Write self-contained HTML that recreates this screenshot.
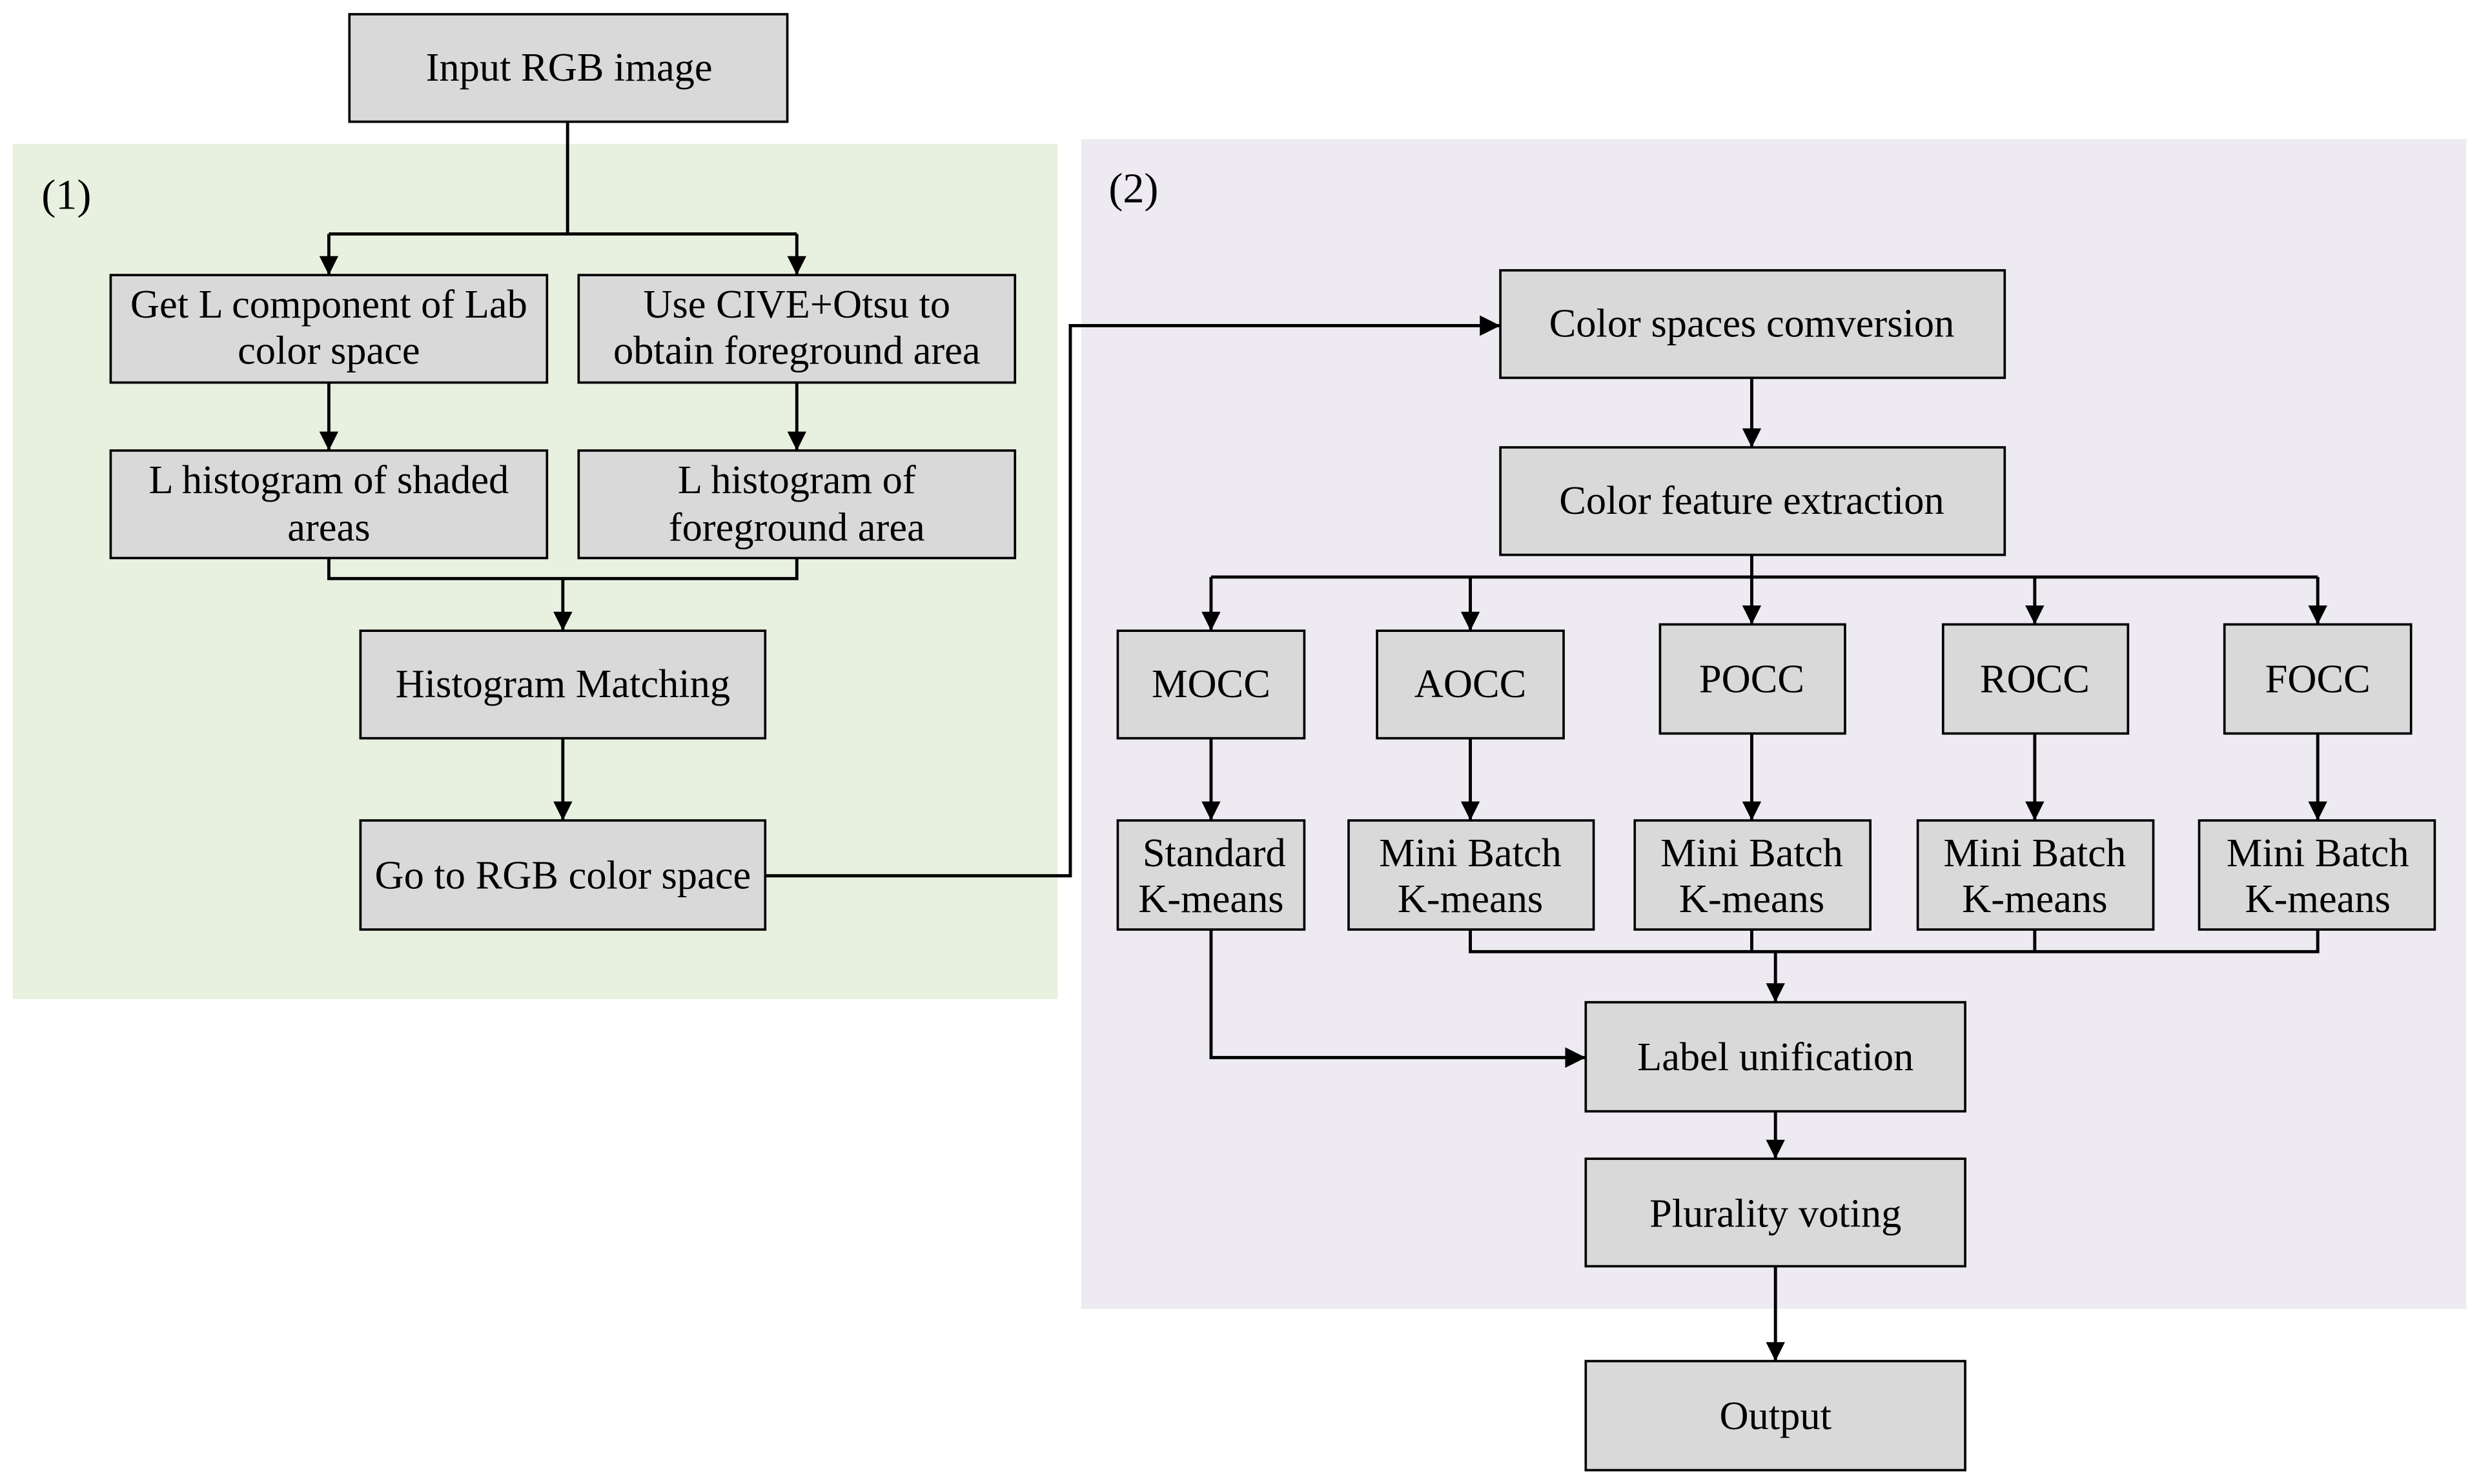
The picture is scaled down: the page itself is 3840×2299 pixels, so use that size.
<!DOCTYPE html>
<html><head><meta charset="utf-8"><style>
html,body{margin:0;padding:0;background:#fff;}
svg{display:block}
text{font-family:"Liberation Serif",serif;font-size:25.5px;fill:#000;text-anchor:middle}
</style></head><body>
<svg width="3840" height="2299" viewBox="0 0 1568 938.75" xmlns="http://www.w3.org/2000/svg">
<defs><marker id="a" viewBox="0 0 10 10" markerWidth="16" markerHeight="12" refX="10" refY="5" orient="auto" markerUnits="userSpaceOnUse"><path d="M0,0 L10,5 L0,10 z" fill="#000"/></marker>
<marker id="b" viewBox="0 0 10 10" markerWidth="16" markerHeight="13" refX="10" refY="5" orient="auto" markerUnits="userSpaceOnUse"><path d="M0,0 L10,5 L0,10 z" fill="#000"/></marker></defs>
<rect x="8" y="91" width="661" height="541" fill="#e8f0df"/>
<rect x="684" y="88" width="876" height="740" fill="#eeeaf2"/>
<text x="42" y="132" style="font-size:27px">(1)</text>
<text x="717" y="128" style="font-size:27px">(2)</text>
<g fill="#d9d9d9" stroke="#000" stroke-width="1.5">
<rect x="221" y="9" width="277" height="68"/>
<rect x="70" y="174" width="276" height="68"/>
<rect x="366" y="174" width="276" height="68"/>
<rect x="70" y="285" width="276" height="68"/>
<rect x="366" y="285" width="276" height="68"/>
<rect x="228" y="399" width="256" height="68"/>
<rect x="228" y="519" width="256" height="69"/>
<rect x="949" y="171" width="319" height="68"/>
<rect x="949" y="283" width="319" height="68"/>
<rect x="707" y="399" width="118" height="68"/>
<rect x="871" y="399" width="118" height="68"/>
<rect x="1050" y="395" width="117" height="69"/>
<rect x="1229" y="395" width="117" height="69"/>
<rect x="1407" y="395" width="118" height="69"/>
<rect x="707" y="519" width="118" height="69"/>
<rect x="853" y="519" width="155" height="69"/>
<rect x="1034" y="519" width="149" height="69"/>
<rect x="1213" y="519" width="149" height="69"/>
<rect x="1391" y="519" width="149" height="69"/>
<rect x="1003" y="634" width="240" height="69"/>
<rect x="1003" y="733" width="240" height="68"/>
<rect x="1003" y="861" width="240" height="69"/>
</g>
<g stroke="#000" stroke-width="2" fill="none">
<path d="M359,77 V148 M208,148 H504"/>
<path d="M208,148 V174" marker-end="url(#a)"/>
<path d="M504,148 V174" marker-end="url(#a)"/>
<path d="M208,242 V285" marker-end="url(#a)"/>
<path d="M504,242 V285" marker-end="url(#a)"/>
<path d="M208,353 V366 H504 V353"/>
<path d="M356,366 V399" marker-end="url(#a)"/>
<path d="M356,467 V519" marker-end="url(#a)"/>
<path d="M484,554 H677 V206 H949" marker-end="url(#b)"/>
<path d="M1108,239 V283" marker-end="url(#a)"/>
<path d="M1108,351 V365 M766,365 H1466"/>
<path d="M766,365 V399" marker-end="url(#a)"/>
<path d="M930,365 V399" marker-end="url(#a)"/>
<path d="M1108,365 V395" marker-end="url(#a)"/>
<path d="M1287,365 V395" marker-end="url(#a)"/>
<path d="M1466,365 V395" marker-end="url(#a)"/>
<path d="M766,467 V519" marker-end="url(#a)"/>
<path d="M930,467 V519" marker-end="url(#a)"/>
<path d="M1108,464 V519" marker-end="url(#a)"/>
<path d="M1287,464 V519" marker-end="url(#a)"/>
<path d="M1466,464 V519" marker-end="url(#a)"/>
<path d="M930,588 V602 H1466 V588 M1108,588 V602 M1287,588 V602"/>
<path d="M1123,602 V634" marker-end="url(#a)"/>
<path d="M766,588 V669 H1003" marker-end="url(#b)"/>
<path d="M1123,703 V733" marker-end="url(#a)"/>
<path d="M1123,801 V861" marker-end="url(#a)"/>
</g>
<text x="360" y="51">Input RGB image</text>
<text x="208" y="201">Get L component of Lab</text>
<text x="208" y="230">color space</text>
<text x="504" y="201">Use CIVE+Otsu to</text>
<text x="504" y="230">obtain foreground area</text>
<text x="208" y="312">L histogram of shaded</text>
<text x="208" y="342">areas</text>
<text x="504" y="312">L histogram of</text>
<text x="504" y="342">foreground area</text>
<text x="356" y="441">Histogram Matching</text>
<text x="356" y="562">Go to RGB color space</text>
<text x="1108" y="213">Color spaces comversion</text>
<text x="1108" y="325">Color feature extraction</text>
<text x="766" y="441">MOCC</text>
<text x="930" y="441">AOCC</text>
<text x="1108" y="438">POCC</text>
<text x="1287" y="438">ROCC</text>
<text x="1466" y="438">FOCC</text>
<text x="768" y="548">Standard</text>
<text x="766" y="577">K-means</text>
<text x="930" y="548">Mini Batch</text>
<text x="930" y="577">K-means</text>
<text x="1108" y="548">Mini Batch</text>
<text x="1108" y="577">K-means</text>
<text x="1287" y="548">Mini Batch</text>
<text x="1287" y="577">K-means</text>
<text x="1466" y="548">Mini Batch</text>
<text x="1466" y="577">K-means</text>
<text x="1123" y="677">Label unification</text>
<text x="1123" y="776">Plurality voting</text>
<text x="1123" y="904">Output</text>
</svg>
</body></html>
